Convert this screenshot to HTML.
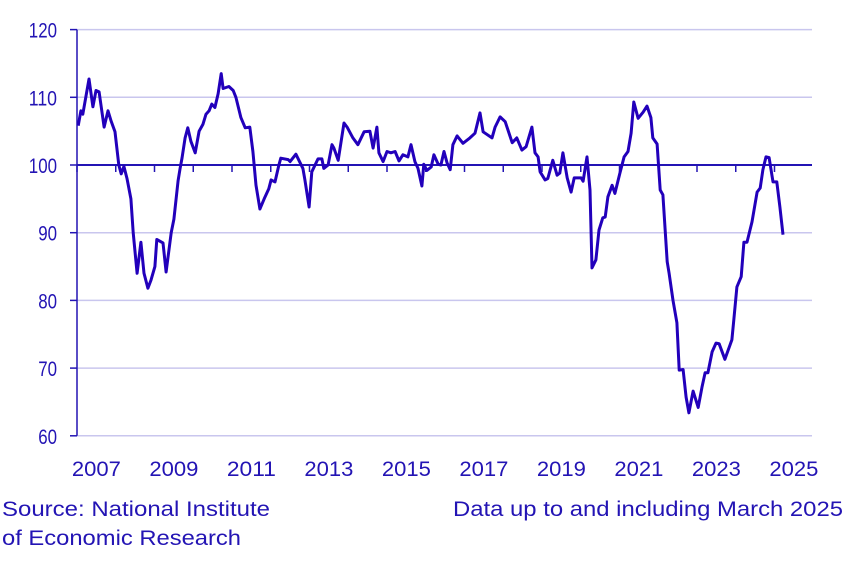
<!DOCTYPE html>
<html><head><meta charset="utf-8"><style>
body{margin:0;background:#fff;width:851px;height:556px;overflow:hidden;font-family:"Liberation Sans",sans-serif}
svg text{font-family:"Liberation Sans",sans-serif;fill:#2314b4}
</style></head><body>
<svg id="chart" width="851" height="556" xmlns="http://www.w3.org/2000/svg">
<g id="grid"></g>
<g id="yaxis"></g>
<g id="xaxis"></g>
<g id="series"></g>
<text x="2" y="516" font-size="21" textLength="268" lengthAdjust="spacingAndGlyphs">Source: National Institute</text>
<text x="2" y="545" font-size="21" textLength="239" lengthAdjust="spacingAndGlyphs">of Economic Research</text>
<text x="453" y="516" font-size="21" textLength="390" lengthAdjust="spacingAndGlyphs">Data up to and including March 2025</text>
</svg>
<script>
const yTicks=[60,70,80,90,100,110,120];
const xLabels=[2007,2009,2011,2013,2015,2017,2019,2021,2023,2025];
// years since Jan 2007
const yearFrac=[0.03,0.10,0.15,0.31,0.41,0.49,0.57,0.70,0.80,0.88,0.98,1.08,1.14,1.21,1.29,1.39,1.45,1.55,1.65,1.73,1.83,1.91,2.01,2.06,2.22,2.30,2.43,2.50,2.61,2.66,2.71,2.79,2.86,2.94,3.05,3.15,3.25,3.33,3.41,3.48,3.56,3.64,3.72,3.77,3.92,4.03,4.10,4.23,4.34,4.46,4.54,4.62,4.72,4.83,4.95,5.01,5.11,5.21,5.26,5.45,5.50,5.65,5.83,5.88,5.99,6.06,6.22,6.32,6.37,6.48,6.58,6.63,6.74,6.89,6.97,7.12,7.25,7.41,7.56,7.64,7.74,7.79,7.90,8.00,8.10,8.21,8.31,8.41,8.54,8.62,8.72,8.80,8.90,8.95,9.03,9.14,9.21,9.32,9.39,9.47,9.55,9.63,9.70,9.81,9.96,10.14,10.27,10.40,10.48,10.71,10.79,10.92,11.05,11.23,11.35,11.48,11.59,11.74,11.82,11.90,11.95,12.08,12.15,12.28,12.39,12.46,12.54,12.65,12.75,12.83,13.01,13.06,13.16,13.24,13.29,13.39,13.47,13.57,13.63,13.70,13.81,13.88,14.01,14.12,14.22,14.30,14.37,14.48,14.61,14.71,14.81,14.86,14.97,15.05,15.12,15.23,15.28,15.38,15.48,15.54,15.64,15.72,15.79,15.90,16.03,16.13,16.21,16.28,16.39,16.49,16.57,16.72,16.90,16.95,17.03,17.14,17.21,17.29,17.42,17.55,17.63,17.70,17.78,17.86,17.96,18.06,18.14,18.22];
const values=[105.8,108,107.5,112.7,108.6,111,110.8,105.6,108,106.5,104.9,100,98.7,99.8,98,95,90,84,88.6,84,81.8,83,85,89,88.5,84.2,90,92,97.7,99.5,101,104,105.5,103.5,101.8,105,106,107.5,108,109,108.5,110.5,113.5,111.3,111.6,111,110,107,105.5,105.6,102,97,93.5,95,96.5,97.8,97.5,100,101,100.8,100.5,101.6,99.5,97.8,93.8,99,100.9,100.9,99.5,100,103,102.5,100.7,106.2,105.6,104,103,104.9,105,102.5,105.6,101.8,100.5,102,101.8,102,100.6,101.5,101.2,103,100.5,99.5,96.9,100.1,99.2,99.7,101.5,100.1,100,102,100.3,99.3,103,104.3,103.2,104,104.7,107.7,104.9,104,105.6,107.1,106.4,103.3,104,102.2,102.7,105.6,101.8,101.2,99,97.8,98,100.7,98.5,98.8,101.8,98.1,96,98.1,98.1,97.6,101.2,96.3,84.8,86,90.4,92.2,92.3,95.3,97,95.8,98.8,101.2,102,104.7,109.3,106.9,107.8,108.7,107,104,103.1,96.3,95.6,85.7,84,80,76.7,69.7,69.8,65.7,63.4,66.6,64.2,67.2,69.3,69.3,72.4,73.7,73.6,71.3,74.2,77.1,82,83.5,88.6,88.6,91.6,96,96.6,99.3,101.2,101.1,97.5,97.5,93.8,89.7];
const NS='http://www.w3.org/2000/svg';
const X0=77,PX_YEAR=38.75,Y100=165,PX_UNIT=6.77,RIGHT=812;
function xs(t){return X0+t*PX_YEAR;}
function ys(v){return Y100-(v-100)*PX_UNIT;}
function mk(tag,attrs,parent){const e=document.createElementNS(NS,tag);for(const k in attrs)e.setAttribute(k,attrs[k]);parent.appendChild(e);return e;}
const grid=document.getElementById('grid'),ya=document.getElementById('yaxis'),xa=document.getElementById('xaxis'),se=document.getElementById('series');
yTicks.forEach(v=>{
  if(v!==100){const l=mk('line',{x1:X0,x2:RIGHT,y1:ys(v),y2:ys(v),stroke:'#c9c6ee','stroke-width':1.5},grid);
  
  }
  const tk=mk('line',{x1:X0-7,x2:X0,y1:ys(v),y2:ys(v),stroke:'#2314b4','stroke-width':1.5},ya);
  
  
  const s=String(v);
  const t=mk('text',{x:57,y:ys(v)+8,'font-size':21,'text-anchor':'end',textLength:s.length*9.4,lengthAdjust:'spacingAndGlyphs'},ya);t.textContent=s;
  
  
});
const ax=mk('line',{x1:X0,x2:X0,y1:ys(120),y2:ys(60),stroke:'#2314b4','stroke-width':1.5},ya);


const base=mk('line',{x1:X0,x2:RIGHT,y1:ys(100),y2:ys(100),stroke:'#2314b4','stroke-width':2},xa);


for(let yr=2007;yr<=2025;yr++){
  const tk=mk('line',{x1:xs(yr-2007),x2:xs(yr-2007),y1:ys(100),y2:ys(100)+7,stroke:'#2314b4','stroke-width':1.5},xa);
  
  
}
xLabels.forEach(yr=>{
  const t=mk('text',{x:xs(yr-2007+0.5)-24.5,y:476,'font-size':21,textLength:49,lengthAdjust:'spacingAndGlyphs'},xa);t.textContent=yr;
  
  
});
const d=values.map((v,i)=>(i?'L':'M')+xs(yearFrac[i]).toFixed(1)+','+ys(v).toFixed(1)).join('');
const p=mk('path',{d:d,fill:'none',stroke:'#2200bb','stroke-width':3,'stroke-linejoin':'round'},se);


</script>
</body></html>
